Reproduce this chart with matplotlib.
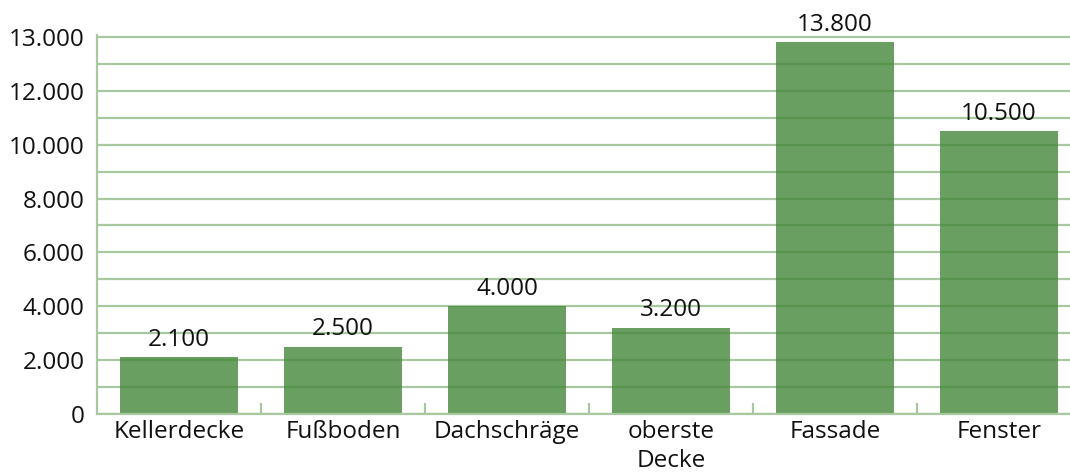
import matplotlib.pyplot as plt
import numpy as np

# daten
kategorien = ['Kellerdecke', 'Fußboden', 'Dachschräge', 'oberste\nDecke', 'Fassade', 'Fenster']
werte = [2100, 2500, 4000, 3200, 13800, 10500]
wert_labels = ['2.100', '2.500', '4.000', '3.200', '13.800', '10.500']
y_ticks = [0, 2000, 4000, 6000, 8000, 10000, 12000, 14000]
y_tick_labels = ['0', '2.000', '4.000', '6.000', '8.000', '10.000', '12.000', '13.000']

plt.rcParams['font.family'] = ['Open Sans', 'DejaVu Sans']

grid_farbe = '#a8c8a0'
balken_farbe = '#45873b'

fig = plt.figure(figsize=(10.7, 4.72), dpi=100)
# y-achse etwas über 14000, damit die oberste linie nicht abgeschnitten wird
ax = fig.add_axes([97 / 1070, 58 / 472, 984 / 1070, 379 / 472])

x = np.arange(len(kategorien))
ax.set_axisbelow(True)
ax.yaxis.grid(True, which='both', color=grid_farbe, linewidth=1.6)
ax.bar(x, werte, width=0.72, color=balken_farbe, alpha=0.8, zorder=2)

for xi, w, lab in zip(x, werte, wert_labels):
    ax.annotate(lab, (xi, w), xytext=(0, 4), textcoords='offset points',
                ha='center', va='bottom', fontsize=17.5, color='#111111', annotation_clip=False)

ax.set_xlim(-0.5, len(kategorien) - 0.5)
ax.set_ylim(0, 14070)
ax.set_yticks(y_ticks)
ax.set_yticks(np.arange(1000, 14000, 2000), minor=True)
ax.set_yticklabels(y_tick_labels, fontsize=17.5, color='#111111')
ax.tick_params(axis='y', which='both', length=0, pad=9)

ax.set_xticks(x)
ax.set_xticklabels(kategorien, fontsize=17.5, color='#111111', linespacing=1.3)
ax.set_xticks(x[:-1] + 0.5, minor=True)
ax.tick_params(axis='x', which='major', length=0, pad=4)
ax.tick_params(axis='x', which='minor', direction='in', length=8, width=1.6, color=grid_farbe)

for s in ['top', 'right']:
    ax.spines[s].set_visible(False)
for s in ['left', 'bottom']:
    ax.spines[s].set_color(grid_farbe)
    ax.spines[s].set_linewidth(1.6)

plt.savefig('out.png', dpi=100)
